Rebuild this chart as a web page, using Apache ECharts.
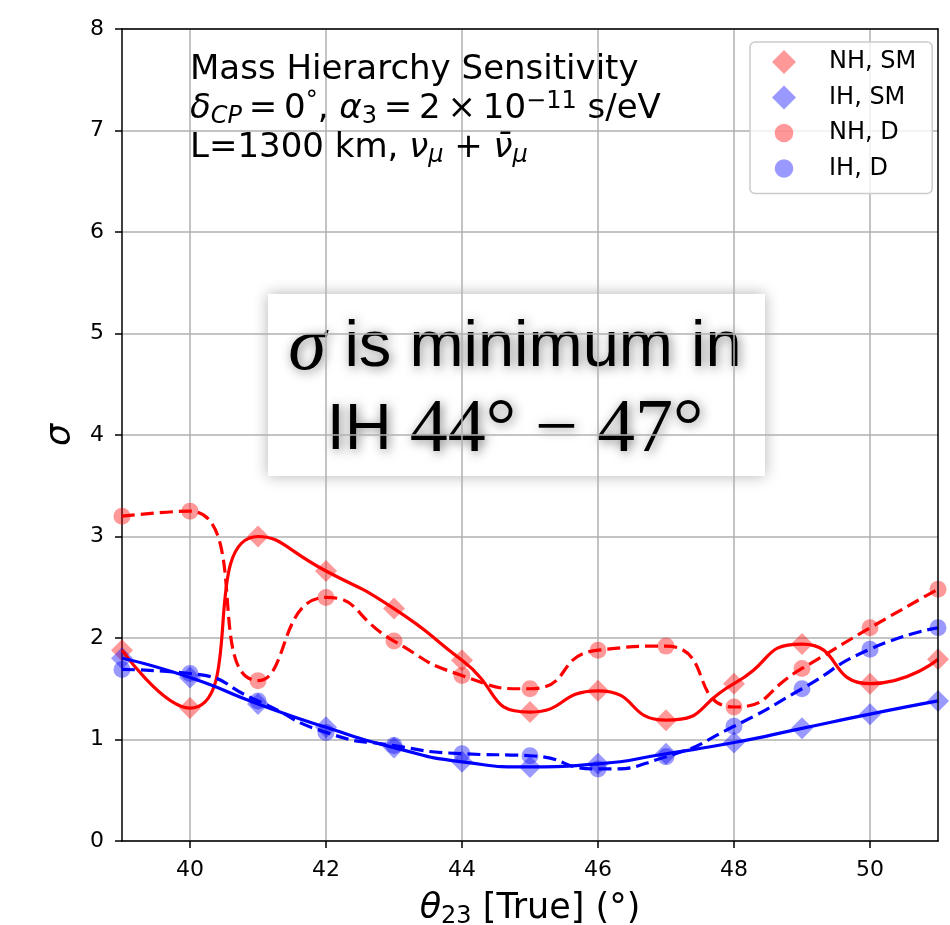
<!DOCTYPE html>
<html><head><meta charset="utf-8">
<script src="https://cdn.jsdelivr.net/npm/echarts@6/dist/echarts.min.js"></script>
<style>html,body{margin:0;padding:0;background:#fff}#c{width:950px;height:925px}</style>
</head><body><div id="c"></div>
<script>
const theta = [39, 40, 41, 42, 43, 44, 45, 46, 47, 48, 49, 50, 51];
const nhSM = [1.88, 1.31, 3.00, 2.66, 2.29, 1.78, 1.27, 1.48, 1.19, 1.55, 1.94, 1.55, 1.79];
const ihSM = [1.80, 1.61, 1.35, 1.12, 0.92, 0.78, 0.73, 0.76, 0.86, 0.97, 1.11, 1.25, 1.38];
const nhD = [3.20, 3.25, 1.58, 2.40, 1.97, 1.63, 1.50, 1.88, 1.92, 1.32, 1.70, 2.10, 2.48];
const ihD = [1.69, 1.65, 1.38, 1.07, 0.94, 0.86, 0.84, 0.71, 0.83, 1.13, 1.50, 1.89, 2.10];
const xTicks = [40, 42, 44, 46, 48, 50];
const seriesNames = ['NH, SM', 'IH, SM', 'NH, D', 'IH, D'];

const FONT = 'DejaVu Sans';
const pairs = arr => theta.map((t, i) => [t, arr[i]]);
const CIRCLE_ICON = 'path://M0,0M24,24M12,2.7A9.3,9.3 0 1 1 12,21.3A9.3,9.3 0 1 1 12,2.7Z';
const TS = '\u2009';

function scatter(name, arr, symbol, size, color) {
  return { name, type: 'scatter', data: pairs(arr), symbol, symbolSize: size,
    itemStyle: { color }, z: 2, silent: true };
}
function curve(arr, color, dashed) {
  return { type: 'line', data: pairs(arr), smooth: 0.6, showSymbol: false, silent: true,
    lineStyle: { color, width: 3.2, type: dashed ? [13, 6] : 'solid' }, z: 3 };
}
const shadow = { textShadowColor: 'rgba(0,0,0,0.5)', textShadowBlur: 11, textShadowOffsetX: 2, textShadowOffsetY: 2 };

const chart = echarts.init(document.getElementById('c'), null, { renderer: 'canvas' });
chart.setOption({
  animation: false,
  backgroundColor: '#fff',
  grid: { left: 122, right: 12, top: 29, bottom: 84, outerBoundsMode: 'none', containLabel: false },
  xAxis: [{
    type: 'value', min: 39, max: 51,
    axisLine: { show: true, onZero: false, lineStyle: { color: '#000', width: 1.5 } },
    axisTick: { show: true, customValues: xTicks, length: 7, lineStyle: { color: '#000', width: 1.5 } },
    axisLabel: { customValues: xTicks, fontFamily: FONT, fontSize: 22, color: '#000', margin: 18 },
    splitLine: { show: true, lineStyle: { color: '#b0b0b0', width: 1.5 } },
    name: '{i|θ}{s|23}{n| [True] (°)}', nameLocation: 'middle', nameGap: 48,
    nameTextStyle: { fontFamily: FONT, fontSize: 35, color: '#000',
      rich: { i: { fontFamily: FONT, fontStyle: 'italic', fontSize: 35, lineHeight: 40 },
              s: { fontFamily: FONT, fontSize: 24, verticalAlign: 'bottom', lineHeight: 24 },
              n: { fontFamily: FONT, fontSize: 35, lineHeight: 40 } } }
  }, {
    type: 'value', min: 39, max: 51, position: 'top', z: 5,
    axisLine: { show: true, onZero: false, lineStyle: { color: '#000', width: 1.5 } },
    axisTick: { show: false }, axisLabel: { show: false }, splitLine: { show: false }
  }],
  yAxis: [{
    type: 'value', min: 0, max: 8, interval: 1,
    axisLine: { show: true, onZero: false, lineStyle: { color: '#000', width: 1.5 } },
    axisTick: { show: true, length: 7, lineStyle: { color: '#000', width: 1.5 } },
    axisLabel: { fontFamily: FONT, fontSize: 22, color: '#000', margin: 18 },
    splitLine: { show: true, lineStyle: { color: '#b0b0b0', width: 1.5 } },
    name: 'σ', nameLocation: 'middle', nameGap: 44, nameRotate: 90,
    nameTextStyle: { fontFamily: FONT, fontStyle: 'italic', fontSize: 35, color: '#000' }
  }, {
    type: 'value', min: 0, max: 8, position: 'right', z: 5,
    axisLine: { show: true, onZero: false, lineStyle: { color: '#000', width: 1.5 } },
    axisTick: { show: false }, axisLabel: { show: false }, splitLine: { show: false }
  }],
  legend: {
    data: [
      { name: seriesNames[0], icon: 'diamond' },
      { name: seriesNames[1], icon: 'diamond' },
      { name: seriesNames[2], icon: CIRCLE_ICON },
      { name: seriesNames[3], icon: CIRCLE_ICON }
    ],
    orient: 'vertical', left: 750, top: 42,
    padding: [8, 16, 13, 22], itemWidth: 24, itemHeight: 24, itemGap: 11.5,
    backgroundColor: 'rgba(255,255,255,0.8)', borderColor: '#cccccc', borderWidth: 1.5, borderRadius: 5,
    selectedMode: false,
    formatter: n => '{a|' + n + '}',
    textStyle: { fontFamily: FONT, fontSize: 24, color: '#000',
      rich: { a: { fontFamily: FONT, fontSize: 24, color: '#000', padding: [0, 0, 0, 28] } } }
  },
  graphic: [
    { type: 'text', left: 190, top: 53, z: 10,
      style: {
        text: '{n|Mass Hierarchy Sensitivity}\n' +
              '{i|δ}{sb|CP}{n|' + TS + '=' + TS + '0}{sp|°}{n|, }{i|α}{sb3|3}{n|' + TS + '=' + TS + '2' + TS + '×' + TS + '10}{sp|−11}{n| s/eV}\n' +
              '{n|L=1300 km, }{i|ν}{sb|μ}{n| + }{i|ν̄}{sb|μ}',
        fill: '#000', font: '34px "DejaVu Sans"',
        rich: {
          n: { fontFamily: FONT, fontSize: 34, lineHeight: 39, fill: '#000' },
          i: { fontFamily: FONT, fontStyle: 'italic', fontSize: 34, lineHeight: 39, fill: '#000' },
          sb: { fontFamily: FONT, fontStyle: 'italic', fontSize: 24, lineHeight: 20, verticalAlign: 'bottom', fill: '#000' },
          sb3: { fontFamily: FONT, fontSize: 24, lineHeight: 20, verticalAlign: 'bottom', fill: '#000' },
          sp: { fontFamily: FONT, fontSize: 24, lineHeight: 22, verticalAlign: 'top', fill: '#000' }
        }
      } },
    { type: 'group', z: 20, children: [
      { type: 'rect', shape: { x: 268, y: 294, width: 497, height: 182 },
        style: { fill: '#fff', shadowBlur: 14, shadowColor: 'rgba(0,0,0,0.3)' } },
      { type: 'text', x: 515, y: 307,
        style: Object.assign({
          text: '{g|σ}{a| is minimum in}\n{a|IH }{t|44° − 47°}',
          align: 'center', verticalAlign: 'top', fill: '#000',
          rich: {
            a: Object.assign({ fontFamily: 'Liberation Sans', fontSize: 65, lineHeight: 83, fill: '#000' }, shadow),
            g: Object.assign({ fontFamily: 'Liberation Serif', fontStyle: 'italic', fontSize: 77, lineHeight: 83, fill: '#000' }, shadow),
            t: Object.assign({ fontFamily: 'Liberation Serif', fontSize: 76, lineHeight: 83, fill: '#000' }, shadow)
          }
        }, shadow) }
    ] }
  ],
  series: [
    scatter(seriesNames[0], nhSM, 'diamond', 22, 'rgba(255,0,0,0.5)'),
    scatter(seriesNames[1], ihSM, 'diamond', 22, 'rgba(0,0,255,0.5)'),
    scatter(seriesNames[2], nhD, 'circle', 17, 'rgba(255,0,0,0.5)'),
    scatter(seriesNames[3], ihD, 'circle', 17, 'rgba(0,0,255,0.5)'),
    curve(nhSM, '#ff0000', false),
    curve(nhD, '#ff0000', true),
    curve(ihSM, '#0000ff', false),
    curve(ihD, '#0000ff', true)
  ]
});
</script></body></html>
